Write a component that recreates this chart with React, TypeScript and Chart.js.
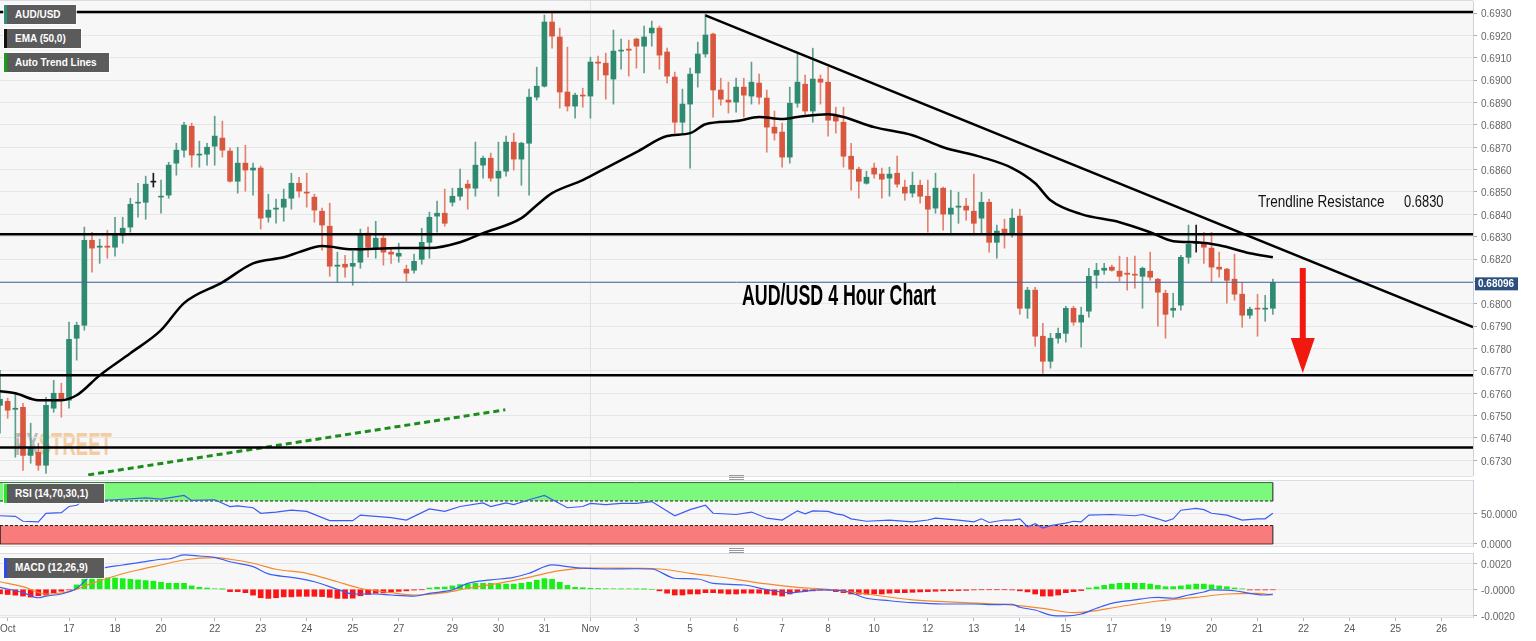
import React, { useEffect, useRef } from "react";
import { Chart, registerables } from "chart.js";

Chart.register(...registerables);

const FONT = '"Liberation Sans", Arial, Helvetica, sans-serif';
Chart.defaults.font.family = FONT;

const GREEN = "#2e8a70";
const GREEN_WICK = "#5f9f8d";
const RED = "#d9573f";
const RED_WICK = "#e2826f";

// ---------------- AUD/USD 4h candles ----------------
const candleOpen = [
  0.67546, 0.67564, 0.67528, 0.67537, 0.67322, 0.67336, 0.67278, 0.67533, 0.676, 0.67569,
  0.67846, 0.67904, 0.68284, 0.68253, 0.68258, 0.68253, 0.68307, 0.68343, 0.6845, 0.68454,
  0.68544, 0.68477, 0.68486, 0.68629, 0.68687, 0.68794, 0.68665, 0.68669, 0.68705, 0.68741,
  0.68683, 0.68548, 0.68629, 0.68598, 0.68607, 0.68387, 0.68423, 0.68432, 0.68472, 0.68539,
  0.68499, 0.68477, 0.68414, 0.68347, 0.68168, 0.68177, 0.68168, 0.68186, 0.68316, 0.68249,
  0.68293, 0.68231, 0.68213, 0.68155, 0.6815, 0.68199, 0.68275, 0.68392, 0.68405, 0.68454,
  0.68481, 0.68535, 0.68517, 0.6862, 0.68651, 0.68562, 0.68593, 0.68723, 0.68647, 0.68718,
  0.68924, 0.68973, 0.6926, 0.69193, 0.68947, 0.68884, 0.68933, 0.68929, 0.69081, 0.69076,
  0.69005, 0.6913, 0.69139, 0.69184, 0.69152, 0.69211, 0.69233, 0.69126, 0.69014, 0.68812,
  0.68893, 0.69032, 0.69117, 0.69206, 0.68956, 0.68911, 0.68902, 0.68969, 0.68929, 0.68987,
  0.6892, 0.6879, 0.68768, 0.68656, 0.68897, 0.68982, 0.68862, 0.69005, 0.68991, 0.68839,
  0.68812, 0.6866, 0.68602, 0.68539, 0.68607, 0.6858, 0.68562, 0.68584, 0.68522, 0.68495,
  0.6853, 0.68481, 0.68428, 0.68517, 0.68401, 0.68432, 0.68437, 0.68414, 0.68383, 0.68454,
  0.68275, 0.68334, 0.68311, 0.68392, 0.6798, 0.68061, 0.67855, 0.67743, 0.67846, 0.67868,
  0.6798, 0.67918, 0.67967, 0.68128, 0.6815, 0.68164, 0.68146, 0.68137, 0.68132, 0.68123,
  0.68146, 0.6811, 0.68047, 0.67971, 0.67994, 0.68208, 0.68271, 0.68267, 0.68249, 0.68164,
  0.68155, 0.6811, 0.68043, 0.67949, 0.6798, 0.67976, 0.6798,
];
const candleHigh = [
  0.67703, 0.67578, 0.676, 0.67555, 0.67466, 0.67376, 0.67582, 0.67658, 0.67645, 0.67918,
  0.67918, 0.68343, 0.6832, 0.68289, 0.68329, 0.68387, 0.68387, 0.68472, 0.68539, 0.68571,
  0.68584, 0.68553, 0.68633, 0.68718, 0.68812, 0.68808, 0.68727, 0.68718, 0.68839, 0.68817,
  0.68696, 0.687, 0.68709, 0.68629, 0.68616, 0.6849, 0.68468, 0.68513, 0.68584, 0.68566,
  0.68584, 0.6849, 0.68428, 0.6845, 0.68231, 0.68217, 0.68235, 0.68334, 0.68343, 0.68369,
  0.68307, 0.68249, 0.68271, 0.68173, 0.68222, 0.68338, 0.6841, 0.68459, 0.68513, 0.68517,
  0.68602, 0.68553, 0.68723, 0.6866, 0.68674, 0.68723, 0.6875, 0.68763, 0.68723, 0.6896,
  0.69058, 0.69291, 0.693, 0.69233, 0.69148, 0.68942, 0.68964, 0.69103, 0.69108, 0.69121,
  0.69224, 0.69184, 0.69179, 0.69188, 0.69242, 0.69264, 0.69242, 0.69143, 0.69036, 0.6896,
  0.69054, 0.6917, 0.69296, 0.69211, 0.69009, 0.68991, 0.69009, 0.69009, 0.69081, 0.69027,
  0.68956, 0.68862, 0.68808, 0.68969, 0.69121, 0.69023, 0.69143, 0.69023, 0.69058, 0.68879,
  0.68879, 0.68718, 0.68611, 0.68593, 0.68629, 0.68607, 0.68611, 0.6866, 0.68553, 0.68589,
  0.68553, 0.68553, 0.68584, 0.68522, 0.68508, 0.68499, 0.68472, 0.6858, 0.68499, 0.68468,
  0.68352, 0.68378, 0.68423, 0.68423, 0.68074, 0.68074, 0.67913, 0.67868, 0.67891, 0.67989,
  0.67989, 0.67985, 0.68159, 0.68181, 0.68181, 0.68173, 0.68213, 0.68208, 0.68213, 0.68164,
  0.68231, 0.68114, 0.68061, 0.68047, 0.68217, 0.68352, 0.68352, 0.6832, 0.6832, 0.68231,
  0.68159, 0.68222, 0.68096, 0.67985, 0.68043, 0.68038, 0.6811,
];
const candleLow = [
  0.67421, 0.67488, 0.67314, 0.67255, 0.67287, 0.67255, 0.67242, 0.67515, 0.67493, 0.67533,
  0.67748, 0.67882, 0.68141, 0.68181, 0.68204, 0.68213, 0.68271, 0.6832, 0.68387, 0.68378,
  0.68522, 0.68405, 0.68472, 0.68575, 0.68656, 0.68611, 0.68611, 0.6862, 0.6862, 0.68656,
  0.68544, 0.68495, 0.68504, 0.68486, 0.68334, 0.68365, 0.6836, 0.68369, 0.68423, 0.68477,
  0.68432, 0.68365, 0.6824, 0.68123, 0.68096, 0.68119, 0.68083, 0.68159, 0.68208, 0.68204,
  0.68173, 0.68181, 0.68186, 0.68101, 0.68137, 0.68177, 0.68204, 0.6832, 0.68347, 0.68437,
  0.68463, 0.68423, 0.68481, 0.68562, 0.68548, 0.68481, 0.68571, 0.68598, 0.6853, 0.68486,
  0.68911, 0.68969, 0.69143, 0.68875, 0.68862, 0.6883, 0.68879, 0.6883, 0.69, 0.68915,
  0.68893, 0.69049, 0.69018, 0.69054, 0.69032, 0.69152, 0.69049, 0.68987, 0.68763, 0.68763,
  0.68607, 0.68969, 0.69103, 0.68835, 0.68888, 0.68853, 0.68857, 0.68835, 0.68893, 0.68893,
  0.68678, 0.68732, 0.68611, 0.68629, 0.68879, 0.68839, 0.68812, 0.68893, 0.6875, 0.68763,
  0.68611, 0.68508, 0.68472, 0.68535, 0.68562, 0.68472, 0.68481, 0.68522, 0.68463, 0.68477,
  0.6845, 0.6832, 0.68405, 0.68329, 0.68316, 0.6836, 0.68374, 0.68316, 0.68316, 0.68231,
  0.68204, 0.68249, 0.68298, 0.67953, 0.67935, 0.6781, 0.67689, 0.67712, 0.67824, 0.67828,
  0.67904, 0.67806, 0.6794, 0.6807, 0.68132, 0.68146, 0.68101, 0.68061, 0.6807, 0.6798,
  0.68105, 0.679, 0.67846, 0.6794, 0.67971, 0.68181, 0.68231, 0.68181, 0.68096, 0.68119,
  0.68003, 0.68016, 0.67895, 0.67935, 0.67855, 0.67922, 0.67953,
];
const candleClose = [
  0.67573, 0.67524, 0.67533, 0.67322, 0.67354, 0.67278, 0.67546, 0.676, 0.67569, 0.67841,
  0.67904, 0.68284, 0.68249, 0.68258, 0.68253, 0.68307, 0.68338, 0.68445, 0.68454, 0.68535,
  0.68544, 0.68481, 0.6862, 0.68687, 0.68799, 0.68665, 0.68669, 0.687, 0.6875, 0.68687,
  0.68548, 0.68629, 0.68598, 0.68607, 0.68383, 0.68419, 0.68428, 0.68468, 0.68539, 0.68504,
  0.68495, 0.68419, 0.68352, 0.68168, 0.68173, 0.68164, 0.68181, 0.68311, 0.68253, 0.68293,
  0.68231, 0.68222, 0.68226, 0.68137, 0.6819, 0.68275, 0.68387, 0.68405, 0.6836, 0.68481,
  0.68517, 0.68517, 0.6862, 0.68651, 0.68562, 0.68593, 0.68723, 0.68647, 0.68718, 0.68924,
  0.68973, 0.6926, 0.69197, 0.68947, 0.68884, 0.68933, 0.68929, 0.69081, 0.69076, 0.69023,
  0.6913, 0.69134, 0.69134, 0.69152, 0.69193, 0.69233, 0.69112, 0.69018, 0.68812, 0.68893,
  0.69027, 0.69117, 0.69202, 0.68956, 0.68915, 0.68902, 0.68969, 0.68933, 0.68991, 0.68924,
  0.6879, 0.68763, 0.68656, 0.68897, 0.68991, 0.68862, 0.69005, 0.68991, 0.68821, 0.68817,
  0.6866, 0.68602, 0.68548, 0.68566, 0.6858, 0.68557, 0.6858, 0.68535, 0.68495, 0.6853,
  0.68481, 0.68423, 0.68517, 0.68401, 0.68428, 0.68437, 0.68419, 0.6836, 0.68454, 0.68275,
  0.68325, 0.68316, 0.68383, 0.6798, 0.68061, 0.67855, 0.67743, 0.67846, 0.67868, 0.6798,
  0.67918, 0.67949, 0.68123, 0.6815, 0.68159, 0.6815, 0.68123, 0.68132, 0.68128, 0.68159,
  0.68119, 0.68052, 0.67953, 0.6798, 0.68208, 0.68267, 0.68271, 0.68253, 0.68164, 0.68155,
  0.68105, 0.68043, 0.67949, 0.67976, 0.67976, 0.6798, 0.68096,
];

// ---------------- EMA (50) ----------------
const emaIndex = [
  0, 2, 5, 8, 10, 13, 17, 21, 24, 29, 33, 37, 39, 42, 46, 52, 56, 60, 63, 68, 70, 72, 76, 79, 83,
  87, 90, 92, 96, 99, 102, 104, 108, 110, 114, 119, 123, 128, 132, 135, 137, 141, 146, 150, 153,
  156, 159, 163, 166,
];
const emaValue = [
  0.67609, 0.676, 0.67569, 0.67569, 0.67591, 0.6768, 0.67779, 0.67882, 0.68003, 0.68096, 0.68181,
  0.68208, 0.68231, 0.68258, 0.68244, 0.68249, 0.68249, 0.68275, 0.68316, 0.68383, 0.68441,
  0.68495, 0.68553, 0.68607, 0.68678, 0.6875, 0.68763, 0.68803, 0.68817, 0.68835, 0.68826,
  0.68835, 0.68848, 0.68835, 0.6879, 0.68754, 0.687, 0.68656, 0.68607, 0.68539, 0.68463, 0.68401,
  0.68365, 0.6832, 0.6828, 0.68275, 0.68262, 0.68226, 0.68208,
];

// ---------------- trend lines / levels ----------------
const levelLines = [0.69305, 0.68311, 0.6768, 0.67357];
const resistanceIndex = [92, 192.1];
const resistanceValue = [0.6929, 0.67896];
const supportIndex = [11.5, 65.9];
const supportValue = [0.67235, 0.67526];
const lastPrice = 0.68096;
const lastPriceLabel = "0.68096";
const arrowIndex = 169.9;
const arrowFrom = 0.6816;
const arrowTo = 0.67691;

// ---------------- RSI ----------------
const rsiIndex = [
  0, 2, 3, 5, 6, 8, 9, 10, 11, 13, 15, 19, 21, 24, 25, 28, 30, 31, 33, 34, 36, 38, 40, 43, 46, 47,
  49, 51, 53, 56, 58, 60, 63, 64, 66, 67, 69, 71, 74, 76, 77, 79, 81, 83, 85, 88, 90, 92, 93, 96,
  98, 100, 102, 104, 105, 106, 108, 109, 110, 111, 113, 116, 119, 121, 122, 125, 127, 128, 129,
  131, 132, 133, 134, 135, 136, 137, 139, 140, 141, 142, 145, 148, 149, 151, 152, 153, 154, 156,
  157, 158, 160, 162, 164, 165, 166,
];
const rsiValue = [
  46, 45, 37, 36, 50, 51, 61, 63, 72, 71, 72, 75, 73, 79, 71, 72, 61, 62, 59, 50, 52, 55, 53, 38,
  38, 47, 45, 43, 39, 57, 53, 61, 67, 61, 67, 64, 72, 79, 59, 61, 66, 64, 66, 66, 69, 46, 56, 63,
  50, 48, 52, 42, 39, 54, 49, 54, 53, 49, 47, 41, 37, 39, 36, 39, 42, 39, 36, 41, 35, 39, 39, 41,
  28, 33, 26, 30, 34, 37, 36, 47, 48, 46, 48, 41, 37, 41, 55, 58, 56, 50, 47, 39, 41, 41, 50,
];
const rsiOverbought = [70, 100];
const rsiOversold = [0, 30];
const rsiTicks = [50, 0];
const rsiTickLabels = ["50.0000", "0.0000"];

// ---------------- MACD (12,26,9) ----------------
const macdIndex = [
  0, 3, 5, 6, 8, 10, 12, 13, 16, 19, 21, 22, 24, 26, 28, 30, 33, 35, 38, 41, 44, 46, 49, 51, 54, 56,
  59, 61, 64, 67, 69, 72, 74, 76, 79, 83, 85, 88, 91, 93, 97, 100, 103, 107, 110, 113, 116, 119,
  123, 127, 130, 132, 133, 135, 137, 139, 141, 143, 145, 148, 150, 151, 153, 155, 157, 158, 161,
  163, 165, 166,
];
const macdValue = [
  0.00015, -0.00026, -0.00065, -0.00052, -0.00036, 0.00008, 0.00115, 0.00154, 0.00187, 0.00212,
  0.00231, 0.00233, 0.00264, 0.00256, 0.00246, 0.00212, 0.00174, 0.00118, 0.00092, 0.00058, 0,
  -0.00036, -0.00036, -0.00044, -0.00052, -0.00031, -0.00005, 0.00046, 0.00072, 0.00092, 0.00123,
  0.00187, 0.00174, 0.00162, 0.00156, 0.00158, 0.00156, 0.00085, 0.00079, 0.00046, 0.00033,
  -0.00002, -0.00026, -0.00005, -0.00011, -0.00069, -0.00088, -0.00103, -0.00113, -0.00113,
  -0.00118, -0.00115, -0.00138, -0.00159, -0.00198, -0.00205, -0.0019, -0.00146, -0.00108,
  -0.00082, -0.00065, -0.00062, -0.00069, -0.00044, -0.00021, -0.00005, -0.00011, -0.00031,
  -0.00044, -0.00036,
];
const signalIndex = [
  0, 3, 6, 9, 12, 15, 18, 21, 24, 28, 30, 33, 36, 40, 44, 47, 51, 54, 58, 61, 65, 69, 73, 77, 81,
  86, 90, 93, 100, 104, 108, 113, 119, 126, 132, 136, 140, 142, 146, 151, 156, 160, 164, 166,
];
const signalValue = [
  0.00058, 0.0002, -0.00036, -0.00018, 0.00046, 0.00102, 0.00148, 0.00187, 0.00225, 0.00243,
  0.00231, 0.002, 0.00154, 0.00123, 0.00058, 0.00008, -0.00026, -0.00044, -0.00026, 0.00008,
  0.00046, 0.00092, 0.00143, 0.00162, 0.00162, 0.00156, 0.00123, 0.00102, 0.00041, 0.00015, 0,
  -0.00036, -0.00082, -0.00103, -0.00121, -0.00146, -0.0018, -0.00172, -0.00134, -0.0009,
  -0.00062, -0.00036, -0.00031, -0.00044,
];
const macdHist = [
  -0.00035, -0.0004, -0.00045, -0.00052, -0.0006, -0.0005, -0.00044, -0.00026, -0.00015, -0.00005,
  0.00034, 0.00077, 0.00087, 0.00087, 0.00087, 0.00087, 0.00082, 0.00077, 0.00072, 0.00067,
  0.00062, 0.00054, 0.00046, 0.00046, 0.00046, 0.00026, 0.00015, 0.0001, 0.00004, 0.00001,
  -0.00018, -0.00018, -0.00026, -0.00045, -0.00065, -0.0007, -0.00065, -0.00058, -0.00058, -0.00054,
  -0.00054, -0.00054, -0.00056, -0.00062, -0.0007, -0.0007, -0.00068, -0.0005, -0.0004, -0.0003,
  -0.00028, -0.0002, -0.00016, -0.00012, -0.00006, -0.00003, 0.0001, 0.00015, 0.00018, 0.00026,
  0.00036, 0.0004, 0.00046, 0.00046, 0.00046, 0.0004, 0.0004, 0.0004, 0.00046, 0.00054,
  0.0007, 0.00082, 0.00077, 0.00054, 0.0003, 0.00015, 0.00012, 0.00008, 0.00006, 0.00005,
  0.00004, 0.00003, 0.00003, 0.00002, 0.00001, 0, -0.00012, -0.0003, -0.00044, -0.00044,
  -0.00036, -0.00036, -0.00026, -0.00026, -0.0003, -0.00036, -0.00036, -0.0003, -0.0003, -0.0003,
  -0.00036, -0.00044, -0.00052, -0.00036, -0.00018, -0.00016, -0.00012, -0.00006, -0.00006, -0.00018,
  -0.00026, -0.00036, -0.00038, -0.00038, -0.00036, -0.00036, -0.0003, -0.00026, -0.00026, -0.00023,
  -0.0002, -0.00018, -0.00015, -0.00012, -0.00011, -0.0001, -0.00008, -0.00005, -0.00003, -0.00003,
  -0.00003, -0.00003, -0.00005, -0.00012, -0.0002, -0.00036, -0.00052, -0.00052, -0.00044, -0.00026,
  -0.00018, -0.0001, 0.0001, 0.00018, 0.0003, 0.0004, 0.00046, 0.00046, 0.00046, 0.00046,
  0.0004, 0.0003, 0.0002, 0.0002, 0.00026, 0.00034, 0.0004, 0.0004, 0.00034, 0.00026,
  0.0002, 0.0001, 0.00003, -0.00005, -0.00005, -0.00005, -0.00004,
];
const macdTicks = [0.002, 0, -0.002];
const macdTickLabels = ["0.0020", "-0.0000", "-0.0020"];

// ---------------- axes ----------------
const priceTicks = [
  0.693, 0.692, 0.691, 0.69, 0.689, 0.688, 0.687, 0.686, 0.685, 0.684, 0.683, 0.682, 0.681, 0.68,
  0.679, 0.678, 0.677, 0.676, 0.675, 0.674, 0.673,
];
const xTickIndex = [
  1, 9, 15, 21, 28, 34, 40, 46, 52, 59, 65, 71, 77, 83, 90, 96, 102, 108, 114, 121, 127, 133, 139,
  145, 152, 158, 164, 170, 176, 182, 188,
];
const xTickLabels = [
  "Oct", "17", "18", "20", "22", "23", "24", "25", "27", "29", "30", "31", "Nov", "3", "5", "6",
  "7", "8", "10", "12", "13", "14", "15", "17", "19", "20", "21", "22", "24", "25", "26",
];
const novIndex = 77;

const X_MIN = 0;
const X_MAX = 192.1;
const PRICE_MIN = 0.6723;
const PRICE_MAX = 0.69354;
const RSI_MIN = -3.3;
const RSI_MAX = 104.2;
const MACD_MIN = -0.00213;
const MACD_MAX = 0.00279;
const AXIS_WIDTH = 63;

function xScale(withLabels: boolean): any {
  return {
    type: "linear",
    min: X_MIN,
    max: X_MAX,
    offset: false,
    afterBuildTicks: (s: any) => {
      s.ticks = (withLabels ? xTickIndex : [novIndex]).map((v) => ({ value: v }));
    },
    afterFit: (s: any) => {
      s.height = withLabels ? 24 : 0;
      s.paddingLeft = 0;
      s.paddingRight = 0;
    },
    grid: {
      offset: false,
      color: (c: any) => (c.tick && c.tick.value === novIndex ? "#e1e1e1" : "rgba(0,0,0,0)"),
      drawTicks: withLabels,
      tickLength: 4,
      tickColor: "#b3b3b3",
    },
    border: { display: withLabels, color: "#dde1e8" },
    ticks: {
      display: withLabels,
      autoSkip: false,
      maxRotation: 0,
      padding: 2,
      color: "#555",
      font: { size: 10, family: FONT },
      callback: (_v: any, i: number) => xTickLabels[i],
    },
  };
}

function yScale(min: number, max: number, values: number[], labels: string[]): any {
  return {
    type: "linear",
    position: "right",
    min,
    max,
    afterBuildTicks: (s: any) => {
      s.ticks = values.map((v) => ({ value: v }));
    },
    afterFit: (s: any) => {
      s.width = AXIS_WIDTH;
      s.paddingTop = 0;
      s.paddingBottom = 0;
    },
    grid: { color: "#e6e6e6", drawTicks: true, tickLength: 4, tickColor: "#a8a8a8" },
    border: { display: true, color: "#cbd2de" },
    ticks: {
      padding: 4,
      labelOffset: 1.5,
      color: "#666",
      font: { size: 10, family: FONT },
      callback: (_v: any, i: number) => labels[i],
    },
  };
}

const baseOptions = {
  animation: false,
  responsive: false,
  events: [],
  layout: { padding: 0 },
  plugins: { legend: { display: false }, tooltip: { enabled: false } },
};

function seg(xs: number[], ys: number[]) {
  return xs.map((x, k) => ({ x, y: ys[k] }));
}

function flat(v: number, x0: number, x1: number) {
  return [
    { x: x0, y: v },
    { x: x1, y: v },
  ];
}

function lineDs(data: any[], color: string, width: number, order: number, extra: any = {}) {
  return {
    type: "line",
    data,
    borderColor: color,
    borderWidth: width,
    pointRadius: 0,
    fill: false,
    order,
    ...extra,
  };
}

const mainPlugin = {
  id: "mainExtras",
  afterDatasetsDraw(chart: any) {
    const { ctx, scales } = chart;
    const x = scales.x.getPixelForValue(arrowIndex);
    const yTop = scales.y.getPixelForValue(arrowFrom);
    const yTip = scales.y.getPixelForValue(arrowTo);
    const headLen = 35;
    ctx.save();
    ctx.fillStyle = "#f0190f";
    ctx.fillRect(x - 3, yTop, 6, yTip - headLen - yTop + 1);
    ctx.beginPath();
    ctx.moveTo(x - 12, yTip - headLen);
    ctx.lineTo(x + 12, yTip - headLen);
    ctx.lineTo(x, yTip);
    ctx.closePath();
    ctx.fill();
    ctx.restore();
  },
  afterDraw(chart: any) {
    const { ctx, scales, chartArea } = chart;
    const y = scales.y.getPixelForValue(lastPrice);
    ctx.save();
    ctx.fillStyle = "#2b4f7e";
    ctx.fillRect(chartArea.right + 2, y - 5, 43, 13);
    ctx.fillStyle = "#ffffff";
    ctx.font = `bold 10px ${FONT}`;
    ctx.textBaseline = "middle";
    ctx.textAlign = "left";
    ctx.fillText(lastPriceLabel, chartArea.right + 5, y + 2);
    ctx.restore();
  },
};

function buildMain(): any {
  const idx = candleOpen.map((_, i) => i);
  const dir = idx.map((i) => Math.sign(candleClose[i] - candleOpen[i]));
  const bodyColors = dir.map((d) => (d > 0 ? GREEN : d < 0 ? RED : "#1a1a1a"));
  const wickColors = dir.map((d) => (d > 0 ? GREEN_WICK : d < 0 ? RED_WICK : "#1a1a1a"));
  return {
    type: "bar",
    data: {
      datasets: [
        {
          type: "bar",
          data: idx.map((i) => ({ x: i, y: [candleLow[i], candleHigh[i]] })),
          backgroundColor: wickColors,
          barThickness: 1,
          grouped: false,
          order: 6,
        },
        {
          type: "bar",
          data: idx.map((i) => ({ x: i, y: [candleOpen[i], candleClose[i]] })),
          backgroundColor: bodyColors,
          barThickness: 5,
          minBarLength: 1,
          grouped: false,
          order: 5,
        },
        lineDs(flat(lastPrice, X_MIN, X_MAX), "#4a6a9c", 1, 4),
        lineDs(seg(emaIndex, emaValue), "#000000", 2.5, 3, { cubicInterpolationMode: "monotone" }),
        ...levelLines.map((v) => lineDs(flat(v, X_MIN, X_MAX), "#000000", 2.5, 1)),
        lineDs(seg(resistanceIndex, resistanceValue), "#000000", 2.5, 1),
        lineDs(seg(supportIndex, supportValue), "#1c8c1c", 3, 1, { borderDash: [6, 4] }),
      ],
    },
    options: {
      ...baseOptions,
      scales: {
        x: xScale(false),
        y: yScale(PRICE_MIN, PRICE_MAX, priceTicks, priceTicks.map((v) => v.toFixed(4))),
      },
    },
    plugins: [mainPlugin],
  };
}

function buildRsi(): any {
  const last = candleOpen.length - 1;
  const bandEdge = "#1f1f1f";
  return {
    type: "line",
    data: {
      datasets: [
        lineDs(seg(rsiIndex, rsiValue), "#3d5cf3", 1.2, 0),
        lineDs(flat(rsiOverbought[1], X_MIN, last), "#3b6b3b", 1, 2),
        lineDs(flat(rsiOverbought[0], X_MIN, last), bandEdge, 1, 2, {
          fill: "-1",
          backgroundColor: "#7cf97c",
          borderDash: [3, 2],
        }),
        lineDs(flat(rsiOversold[1], X_MIN, last), bandEdge, 1, 2, { borderDash: [3, 2] }),
        lineDs(flat(rsiOversold[0], X_MIN, last), "#6b2a2a", 1, 2, {
          fill: "-1",
          backgroundColor: "#f97c7c",
        }),
        lineDs(seg([last, last], rsiOverbought), bandEdge, 1, 1),
        lineDs(seg([last, last], rsiOversold), bandEdge, 1, 1),
        lineDs(seg([X_MIN, X_MIN], rsiOversold), bandEdge, 1.5, 1),
      ],
    },
    options: {
      ...baseOptions,
      layout: { padding: { bottom: 10 } },
      scales: {
        x: xScale(false),
        y: yScale(RSI_MIN, RSI_MAX, rsiTicks, rsiTickLabels),
      },
    },
  };
}

function buildMacd(): any {
  const idx = macdHist.map((_, i) => i);
  return {
    type: "bar",
    data: {
      datasets: [
        {
          type: "bar",
          data: idx.map((i) => ({ x: i, y: macdHist[i] })),
          backgroundColor: macdHist.map((v) => (v >= 0 ? "#19ee19" : "#fa1616")),
          barThickness: 5,
          grouped: false,
          order: 3,
        },
        lineDs(seg(macdIndex, macdValue), "#3d5cf3", 1.2, 1, { cubicInterpolationMode: "monotone" }),
        lineDs(seg(signalIndex, signalValue), "#f5892b", 1.2, 2, {
          cubicInterpolationMode: "monotone",
        }),
      ],
    },
    options: {
      ...baseOptions,
      scales: {
        x: xScale(true),
        y: yScale(MACD_MIN, MACD_MAX, macdTicks, macdTickLabels),
      },
    },
  };
}

function Tag(props: { left: number; top: number; width: number; height: number; accent: string; text: string }) {
  return (
    <div
      style={{
        position: "absolute",
        left: props.left,
        top: props.top,
        width: props.width,
        height: props.height,
        boxSizing: "border-box",
        background: "#5b5b5b",
        borderLeft: `3px solid ${props.accent}`,
        outline: "1px solid rgba(255,255,255,0.75)",
        color: "#ffffff",
        font: `bold 10px ${FONT}`,
        lineHeight: `${props.height}px`,
        paddingLeft: 8,
        whiteSpace: "nowrap",
      }}
    >
      {props.text}
    </div>
  );
}

function Handle(props: { top: number }) {
  const line = (dy: number) => (
    <div
      key={dy}
      style={{ position: "absolute", left: 0, top: dy, width: 15, height: 1, background: "#9a9a9a" }}
    />
  );
  return (
    <div style={{ position: "absolute", left: 729, top: props.top, width: 15, height: 5 }}>
      {[0, 2, 4].map(line)}
    </div>
  );
}

export default function App() {
  const mainRef = useRef<HTMLCanvasElement>(null);
  const rsiRef = useRef<HTMLCanvasElement>(null);
  const macdRef = useRef<HTMLCanvasElement>(null);

  useEffect(() => {
    const charts = [
      new Chart(mainRef.current as HTMLCanvasElement, buildMain()),
      new Chart(rsiRef.current as HTMLCanvasElement, buildRsi()),
      new Chart(macdRef.current as HTMLCanvasElement, buildMacd()),
    ];
    return () => charts.forEach((c) => c.destroy());
  }, []);

  const panel = (top: number, height: number) => ({
    position: "absolute" as const,
    left: 0,
    top,
    width: 1473,
    height,
    boxSizing: "border-box" as const,
    background: "#f7f7f7",
    borderTop: "1px solid #d6dbe5",
    borderBottom: "1px solid #dfe3ea",
  });

  return (
    <div
      style={{
        position: "absolute",
        left: 0,
        top: 0,
        width: 1536,
        height: 641,
        background: "#ffffff",
        overflow: "hidden",
        fontFamily: FONT,
      }}
    >
      <div style={panel(0, 477)} />
      <div style={panel(480, 67)} />
      <div style={panel(553, 65)} />

      <div
        style={{
          position: "absolute",
          left: 15,
          top: 428,
          fontFamily: FONT,
          fontWeight: "bold",
          fontSize: 32,
          lineHeight: "32px",
          transform: "scaleX(0.58)",
          transformOrigin: "left top",
          opacity: 0.45,
          whiteSpace: "nowrap",
        }}
      >
        <span style={{ color: "#707070" }}>FX</span>
        <span style={{ color: "#f29a3c" }}>STREET</span>
      </div>

      <canvas ref={mainRef} width={1536} height={475} style={{ position: "absolute", left: 0, top: 1 }} />
      <canvas ref={rsiRef} width={1536} height={76} style={{ position: "absolute", left: 0, top: 480 }} />
      <canvas ref={macdRef} width={1536} height={88} style={{ position: "absolute", left: 0, top: 553 }} />

      <Tag left={4} top={5} width={72} height={19} accent="#2b8f7a" text="AUD/USD" />
      <Tag left={4} top={29} width={77} height={19} accent="#111111" text="EMA (50,0)" />
      <Tag left={4} top={53} width={105} height={19} accent="#13a013" text="Auto Trend Lines" />
      <Tag left={4} top={484} width={100} height={19} accent="#27e827" text="RSI (14,70,30,1)" />
      <Tag left={4} top={558} width={100} height={20} accent="#2a4bf0" text="MACD (12,26,9)" />

      <div
        style={{
          position: "absolute",
          left: 742,
          top: 280,
          fontFamily: FONT,
          fontWeight: "bold",
          fontSize: 30,
          lineHeight: "30px",
          color: "#000",
          transform: "scaleX(0.594)",
          transformOrigin: "left top",
          whiteSpace: "nowrap",
        }}
      >
        AUD/USD 4 Hour Chart
      </div>
      <div
        style={{
          position: "absolute",
          left: 1258,
          top: 193,
          fontFamily: FONT,
          fontSize: 17,
          lineHeight: "17px",
          color: "#111",
          transform: "scaleX(0.795)",
          transformOrigin: "left top",
          whiteSpace: "nowrap",
        }}
      >
        Trendline Resistance
      </div>
      <div
        style={{
          position: "absolute",
          left: 1404,
          top: 193,
          fontFamily: FONT,
          fontSize: 17,
          lineHeight: "17px",
          color: "#111",
          transform: "scaleX(0.76)",
          transformOrigin: "left top",
          whiteSpace: "nowrap",
        }}
      >
        0.6830
      </div>

      <Handle top={475} />
      <Handle top={548} />
    </div>
  );
}
